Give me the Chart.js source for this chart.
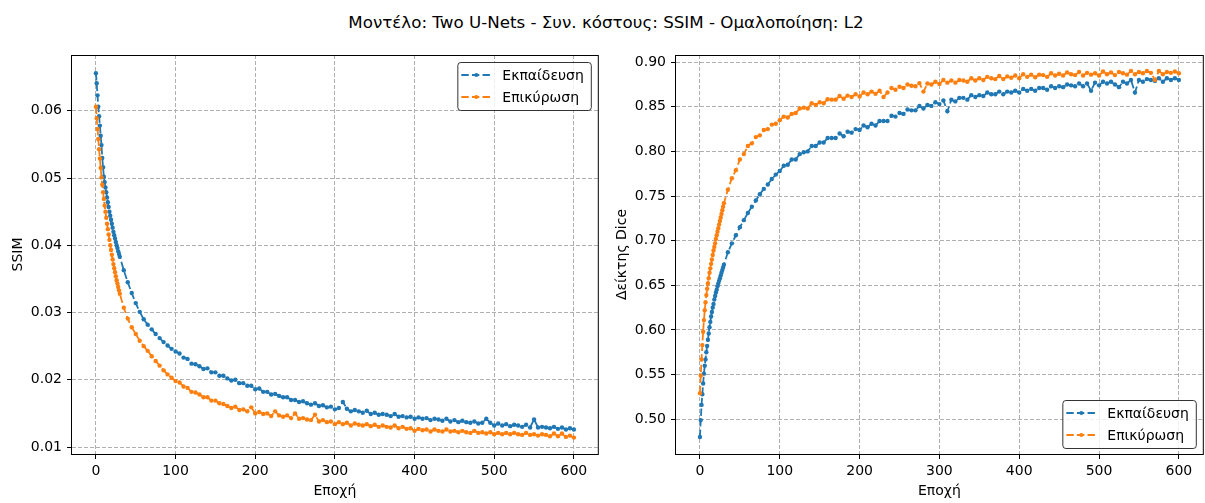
<!DOCTYPE html>
<html>
<head>
<meta charset="utf-8">
<script src="https://cdn.jsdelivr.net/npm/chart.js@4.4.0/dist/chart.umd.min.js"></script>
<style>
  body { margin: 0; background: #fff; font-family: "DejaVu Sans", sans-serif; }
  #wrap { position: relative; width: 1205px; height: 503px; overflow: hidden; }
  #title { position: absolute; left: 0; top: 12px; width: 1212px; text-align: center; font-size: 16.7px; color: #000; }
  canvas { position: absolute; top: 0; }
</style>
</head>
<body>
<div id="wrap">
  <div id="title">Μοντέλο: Two U-Nets - Συν. κόστους: SSIM - Ομαλοποίηση: L2</div>
  <canvas id="lossChart" width="600" height="503" style="left:0"></canvas>
  <canvas id="diceChart" width="601" height="503" style="left:604px"></canvas>
</div>
<script>
// epochs: every epoch up to 30, then every 5th
var epochs = [
  0,1,2,3,4,5,6,7,8,9,10,11,12,13,14,15,16,17,18,19,20,21,22,23,24,25,26,27,28,29,30,
  35,40,45,50,55,60,65,70,75,80,85,90,95,100,
  105,110,115,120,125,130,135,140,145,150,155,160,165,170,175,180,185,190,195,200,
  205,210,215,220,225,230,235,240,245,250,255,260,265,270,275,280,285,290,295,300,
  305,310,315,320,325,330,335,340,345,350,355,360,365,370,375,380,385,390,395,400,
  405,410,415,420,425,430,435,440,445,450,455,460,465,470,475,480,485,490,495,500,
  505,510,515,520,525,530,535,540,545,550,555,560,565,570,575,580,585,590,595,600
];

var ssimTrain = [
  0.0656,0.0641,0.0623,0.0606,0.0592,0.0578,0.0563,0.0549,0.0530,0.0516,
  0.0502,0.0494,0.0486,0.0479,0.0471,0.0464,0.0457,0.0450,0.0444,0.0438,
  0.0432,0.0426,0.0420,0.0415,0.0410,0.0405,0.0400,0.0396,0.0391,0.0387,
  0.0383,
  0.0363,0.0345,0.0329,0.0314,0.0301,0.0290,0.0282,0.0275,0.0268,0.0262,0.0256,0.0251,0.0246,0.0242,
  0.0239,0.0233,0.0231,0.0224,0.0223,0.0220,0.0216,0.0217,0.0211,0.0211,
  0.0206,0.0206,0.0202,0.0199,0.0200,0.0195,0.0195,0.0191,0.0191,0.0186,
  0.0187,0.0182,0.0182,0.0178,0.0179,0.0176,0.0174,0.0174,0.0170,0.0170,
  0.0167,0.0168,0.0165,0.0163,0.0165,0.0161,0.0162,0.0159,0.0160,0.0156,
  0.0158,0.0167,0.0157,0.0153,0.0155,0.0153,0.0151,0.0154,0.0149,0.0151,
  0.0148,0.0149,0.0148,0.0146,0.0149,0.0145,0.0146,0.0144,0.0145,0.0142,
  0.0144,0.0142,0.0143,0.0140,0.0142,0.0141,0.0139,0.0142,0.0138,0.0140,
  0.0137,0.0139,0.0137,0.0136,0.0138,0.0135,0.0136,0.0142,0.0136,0.0132,
  0.0135,0.0132,0.0134,0.0131,0.0133,0.0132,0.0130,0.0133,0.0129,0.0141,
  0.0129,0.0130,0.0129,0.0128,0.0130,0.0127,0.0129,0.0126,0.0128,0.0126
];

var ssimVal = [
  0.0606,0.0589,0.0573,0.0558,0.0543,0.0529,0.0515,0.0501,0.0490,0.0479,
  0.0469,0.0459,0.0450,0.0441,0.0432,0.0424,0.0416,0.0408,0.0400,0.0393,
  0.0386,0.0379,0.0372,0.0366,0.0360,0.0354,0.0348,0.0343,0.0338,0.0333,
  0.0328,
  0.0307,0.0291,0.0278,0.0268,0.0258,0.0250,0.0243,0.0235,0.0228,0.0221,0.0214,0.0208,0.0203,0.0198,
  0.0196,0.0190,0.0188,0.0182,0.0181,0.0178,0.0174,0.0174,0.0169,0.0169,
  0.0165,0.0164,0.0161,0.0158,0.0160,0.0155,0.0156,0.0153,0.0159,0.0150,
  0.0152,0.0149,0.0150,0.0146,0.0153,0.0147,0.0145,0.0147,0.0143,0.0150,
  0.0142,0.0143,0.0141,0.0140,0.0148,0.0138,0.0140,0.0137,0.0138,0.0134,
  0.0137,0.0134,0.0136,0.0132,0.0135,0.0133,0.0132,0.0134,0.0131,0.0133,
  0.0130,0.0132,0.0130,0.0129,0.0132,0.0128,0.0130,0.0127,0.0128,0.0124,
  0.0127,0.0125,0.0126,0.0123,0.0126,0.0124,0.0123,0.0126,0.0123,0.0124,
  0.0122,0.0124,0.0122,0.0121,0.0124,0.0121,0.0122,0.0120,0.0122,0.0119,
  0.0121,0.0119,0.0121,0.0119,0.0121,0.0119,0.0118,0.0121,0.0118,0.0119,
  0.0117,0.0119,0.0118,0.0116,0.0120,0.0116,0.0120,0.0115,0.0117,0.0114
];

var diceTrain = [
  0.480,0.499,0.516,0.528,0.540,0.551,0.560,0.567,0.575,0.582,
  0.589,0.596,0.603,0.609,0.615,0.620,0.625,0.629,0.634,0.638,
  0.642,0.645,0.649,0.652,0.655,0.658,0.661,0.664,0.667,0.670,
  0.673,
  0.687,0.697,0.706,0.715,0.723,0.731,0.738,0.745,0.752,0.758,0.763,0.769,0.774,0.778,
  0.784,0.785,0.791,0.791,0.797,0.799,0.800,0.806,0.806,0.810,
  0.810,0.815,0.815,0.815,0.820,0.817,0.822,0.821,0.825,0.824,
  0.829,0.827,0.831,0.829,0.834,0.834,0.834,0.840,0.839,0.843,
  0.842,0.847,0.846,0.846,0.851,0.848,0.852,0.851,0.855,0.853,
  0.857,0.845,0.858,0.856,0.860,0.860,0.858,0.863,0.861,0.863,
  0.862,0.866,0.864,0.864,0.867,0.864,0.867,0.866,0.868,0.866,
  0.870,0.868,0.870,0.868,0.871,0.871,0.869,0.873,0.871,0.873,
  0.872,0.875,0.874,0.873,0.876,0.873,0.876,0.868,0.877,0.874,
  0.878,0.876,0.878,0.875,0.872,0.878,0.876,0.880,0.866,0.880,
  0.878,0.881,0.880,0.879,0.882,0.878,0.882,0.880,0.882,0.880
];

var diceVal = [
  0.529,0.549,0.567,0.583,0.598,0.611,0.622,0.631,0.639,0.646,
  0.652,0.658,0.664,0.669,0.674,0.679,0.684,0.689,0.693,0.697,
  0.702,0.706,0.710,0.714,0.718,0.722,0.726,0.730,0.734,0.738,
  0.742,
  0.757,0.770,0.779,0.791,0.797,0.806,0.809,0.816,0.818,0.824,0.825,0.830,0.831,0.835,
  0.839,0.838,0.842,0.843,0.848,0.849,0.848,0.854,0.852,0.855,
  0.854,0.8585,0.858,0.858,0.862,0.859,0.8625,0.861,0.864,0.8615,
  0.866,0.864,0.867,0.8645,0.868,0.861,0.866,0.871,0.869,0.8725,
  0.871,0.875,0.8735,0.873,0.8765,0.867,0.876,0.875,0.878,0.8755,
  0.880,0.877,0.8795,0.877,0.880,0.8795,0.878,0.882,0.8795,0.882,
  0.880,0.8835,0.882,0.881,0.8845,0.881,0.884,0.8825,0.885,0.882,
  0.8865,0.8835,0.886,0.883,0.886,0.8855,0.8835,0.8875,0.885,0.887,
  0.885,0.8885,0.8865,0.8855,0.889,0.885,0.888,0.886,0.8875,0.885,
  0.8895,0.8865,0.8885,0.8855,0.889,0.8875,0.886,0.890,0.8865,0.889,
  0.8875,0.890,0.888,0.880,0.890,0.8865,0.889,0.888,0.8895,0.8875
];

var xTicks = [0, 100, 200, 300, 400, 500, 600];
var ssimTicks = [0.01, 0.02, 0.03, 0.04, 0.05, 0.06];
var diceTicks = [0.50, 0.55, 0.60, 0.65, 0.70, 0.75, 0.80, 0.85, 0.90];
var seriesNames = ['Εκπαίδευση', 'Επικύρωση'];
var blue = '#1f77b4', orange = '#ff7f0e';

Chart.defaults.font.family = '"DejaVu Sans", sans-serif';
Chart.defaults.font.size = 14;
Chart.defaults.color = '#000';
Chart.defaults.animation = false;

function toPoints(arr) {
  return epochs.map(function(e, i) { return { x: e, y: arr[i] }; });
}

function series(label, arr, color, order) {
  return {
    label: label,
    data: toPoints(arr),
    borderColor: color,
    backgroundColor: color,
    borderWidth: 1.8,
    borderDash: [7.4, 3.2],
    pointRadius: 2.2,
    pointBorderWidth: 0,
    pointHoverRadius: 0,
    pointBackgroundColor: color,
    tension: 0,
    order: order
  };
}

// black box around the axes, like matplotlib spines
var framePlugin = {
  id: 'frame',
  afterDatasetsDraw: function(chart) {
    var a = chart.chartArea, ctx = chart.ctx;
    ctx.save();
    ctx.strokeStyle = '#000';
    ctx.lineWidth = 1;
    ctx.setLineDash([]);
    ctx.strokeRect(a.left - 0.5, a.top + 0.5, a.right - a.left + 1, a.bottom - a.top);
    ctx.restore();
  }
};

// legend drawn inside the axes with line + dot handles
var boxLegend = {
  id: 'boxLegend',
  afterDraw: function(chart, args, opts) {
    var a = chart.chartArea, ctx = chart.ctx;
    ctx.save();
    ctx.font = '14px "DejaVu Sans"';
    var tw = 0;
    chart.data.datasets.forEach(function(ds) { tw = Math.max(tw, ctx.measureText(ds.label).width); });
    var w = 45 + tw + 7, h = 48;
    var x0 = a.right - 7 - w;
    var y0 = opts.corner === 'lower' ? a.bottom - 6 - h : a.top + 7;
    ctx.beginPath();
    ctx.roundRect(x0 + 0.5, y0 + 0.5, w, h, 3);
    ctx.fillStyle = 'rgba(255,255,255,0.8)';
    ctx.fill();
    ctx.strokeStyle = '#333';
    ctx.lineWidth = 1;
    ctx.stroke();
    chart.data.datasets.forEach(function(ds, i) {
      var cy = y0 + 13 + i * 22;
      ctx.strokeStyle = ds.borderColor;
      ctx.lineWidth = 1.8;
      ctx.setLineDash([7.4, 3.2]);
      ctx.beginPath();
      ctx.moveTo(x0 + 4, cy);
      ctx.lineTo(x0 + 34, cy);
      ctx.stroke();
      ctx.setLineDash([]);
      ctx.fillStyle = ds.borderColor;
      ctx.beginPath();
      ctx.arc(x0 + 19, cy, 2, 0, Math.PI * 2);
      ctx.fill();
      ctx.fillStyle = '#000';
      ctx.textBaseline = 'middle';
      ctx.fillText(ds.label, x0 + 45, cy + 1);
    });
    ctx.restore();
  }
};

function makeChart(id, train, val, yTicks, yMin, yMax, yTitle, corner) {
  var gridCommon = {
    color: '#b0b0b0',
    lineWidth: 1,
    tickLength: 5,
    tickColor: '#000',
    tickWidth: 1,
    tickBorderDash: []
  };
  return new Chart(document.getElementById(id).getContext('2d'), {
    type: 'line',
    data: {
      datasets: [
        series(seriesNames[0], train, blue, 1),
        series(seriesNames[1], val, orange, 0)
      ]
    },
    options: {
      responsive: false,
      animation: false,
      layout: { padding: { top: 55, right: 2, bottom: 0, left: 0 } },
      plugins: {
        legend: { display: false },
        tooltip: { enabled: false },
        boxLegend: { corner: corner }
      },
      scales: {
        x: {
          type: 'linear',
          min: -30,
          max: 630,
          afterBuildTicks: function(axis) { axis.ticks = xTicks.map(function(v) { return { value: v }; }); },
          afterFit: function(axis) { axis.height = 49; },
          grid: gridCommon,
          border: { display: false, dash: [4, 2] },
          ticks: { padding: 4, maxRotation: 0, callback: function(v) { return String(v); } },
          title: { display: true, text: 'Εποχή', font: { size: 14 }, padding: { top: 0, bottom: 3 } }
        },
        y: {
          type: 'linear',
          min: yMin,
          max: yMax,
          afterBuildTicks: function(axis) { axis.ticks = yTicks.map(function(v) { return { value: v }; }); },
          afterFit: function(axis) { axis.width = 72; },
          grid: gridCommon,
          border: { display: false, dash: [4, 2] },
          ticks: { padding: 5, callback: function(v) { return v.toFixed(2); } },
          title: { display: true, text: yTitle, font: { size: 14 }, padding: { top: 9.5, bottom: 0 } }
        }
      }
    },
    plugins: [framePlugin, boxLegend]
  });
}

makeChart('lossChart', ssimTrain, ssimVal, ssimTicks, 0.00896, 0.0683, 'SSIM', 'upper');
makeChart('diceChart', diceTrain, diceVal, diceTicks, 0.461, 0.908, 'Δείκτης Dice', 'lower');
</script>
</body>
</html>
